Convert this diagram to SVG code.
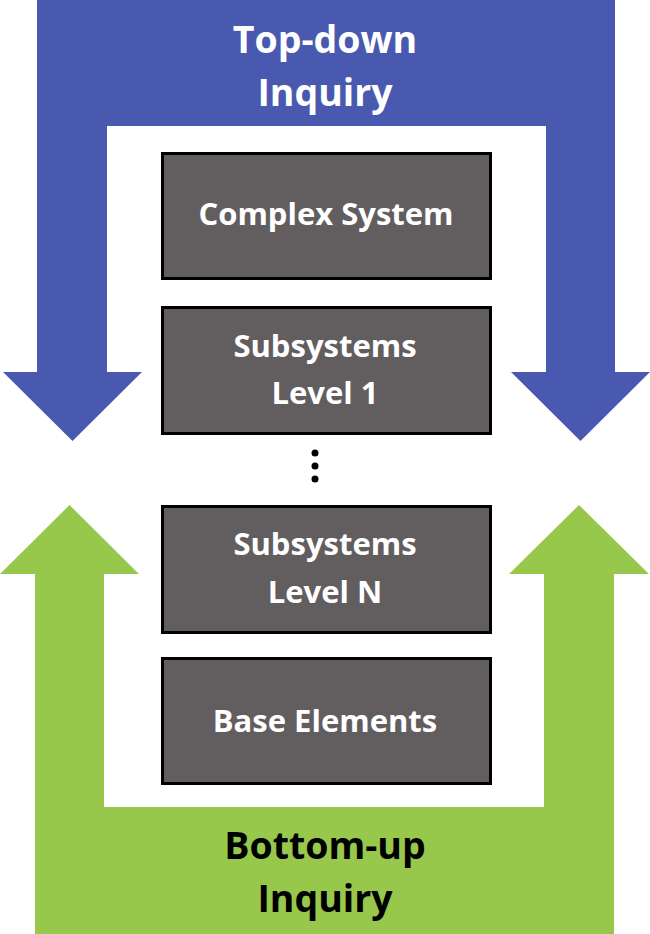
<svg xmlns="http://www.w3.org/2000/svg" width="650" height="934" viewBox="0 0 650 934">
<style>
.box{fill:#625e5f;stroke:#000;stroke-width:3}
.lbl{font-family:"Open Sans","Liberation Sans",sans-serif;font-weight:bold;font-size:31px;fill:#fff;text-anchor:middle}
.hdr{font-family:"Open Sans","Liberation Sans",sans-serif;font-weight:bold;font-size:37.5px;text-anchor:middle}
</style>
<rect width="650" height="934" fill="#fff"/>
<g id="top-down">
<polygon fill="#4959b0" points="37,0 615,0 615,372 650,372 580.5,441 511,372 546,372 546,126 107,126 107,372 142,372 72.5,441 3,372 37,372"/>
<text class="hdr" x="325" y="53" fill="#fff">Top-down</text>
<text class="hdr" x="325" y="106" fill="#fff">Inquiry</text>
</g>
<g id="bottom-up">
<polygon fill="#97c84b" points="35,934 35,574 0,574 69.5,505 139,574 104,574 104,807 544,807 544,574 509,574 579,505 649,574 614,574 614,934"/>
<text class="hdr" x="325" y="859" fill="#000">Bottom-up</text>
<text class="hdr" x="325" y="912" fill="#000">Inquiry</text>
</g>
<g id="complex-system">
<rect class="box" x="162.5" y="153.5" width="328" height="125"/>
<text class="lbl" x="326" y="225">Complex System</text>
</g>
<g id="subsystems-1">
<rect class="box" x="162.5" y="307.5" width="328" height="126"/>
<text class="lbl" x="325" y="357">Subsystems</text>
<text class="lbl" x="325" y="404">Level 1</text>
</g>
<g id="ellipsis">
<circle cx="315" cy="453" r="3.5" fill="#000"/>
<circle cx="315" cy="466" r="3.5" fill="#000"/>
<circle cx="315" cy="479" r="3.5" fill="#000"/>
</g>
<g id="subsystems-n">
<rect class="box" x="162.5" y="506.5" width="328" height="126"/>
<text class="lbl" x="325" y="555">Subsystems</text>
<text class="lbl" x="325" y="603">Level N</text>
</g>
<g id="base-elements">
<rect class="box" x="162.5" y="658.5" width="328" height="125"/>
<text class="lbl" x="325" y="732">Base Elements</text>
</g>
<g id="connectors"></g>
</svg>
